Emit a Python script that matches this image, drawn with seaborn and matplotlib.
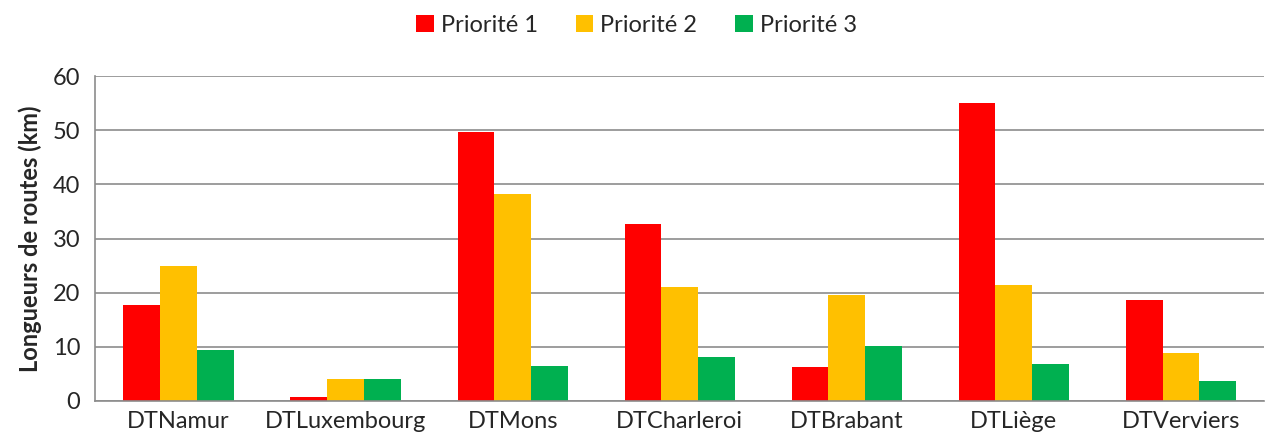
import seaborn as sns
import matplotlib.pyplot as plt
import pandas as pd
import numpy as np

# valeurs (km)
districts = ['DTNamur', 'DTLuxembourg', 'DTMons', 'DTCharleroi', 'DTBrabant', 'DTLiège', 'DTVerviers']
priorite_1 = [17.7, 0.8, 49.7, 32.7, 6.2, 55.0, 18.7]
priorite_2 = [24.9, 4.1, 38.3, 21.1, 19.6, 21.5, 8.9]
priorite_3 = [9.4, 4.1, 6.5, 8.1, 10.2, 6.8, 3.7]
series = ['Priorité 1', 'Priorité 2', 'Priorité 3']
colors = ['#ff0000', '#ffc000', '#00b050']

df = pd.DataFrame({
    'district': districts * 3,
    'priorite': [s for s in series for _ in districts],
    'km': priorite_1 + priorite_2 + priorite_3,
})

sns.set_style('white')
plt.rcParams['font.family'] = ['Lato', 'DejaVu Sans']

fig = plt.figure(figsize=(12.67, 4.48), dpi=100)
ax = fig.add_axes([0.075, 0.105, 0.923, 0.725])

sns.barplot(data=df, x='district', y='km', hue='priorite', palette=colors,
            width=0.66, saturation=1, linewidth=0, ax=ax, order=districts, hue_order=series)

ax.set_ylim(0, 60)
ax.set_xlim(-0.5, len(districts) - 0.5)
ax.set_yticks(range(0, 61, 10))
ax.yaxis.grid(True, color='#8c8c8c', linewidth=1.2)
ax.set_axisbelow(True)

for s in ['top', 'right']:
    ax.spines[s].set_visible(False)
for s in ['left', 'bottom']:
    ax.spines[s].set_color('#8c8c8c')
    ax.spines[s].set_linewidth(1.2)

# petites marques entre les catégories
ax.set_xticks(np.arange(-0.5, len(districts), 1), minor=True)
ax.tick_params(axis='x', which='minor', length=7, width=1.2, color='#8c8c8c', direction='out')
ax.tick_params(axis='x', which='major', length=0, labelsize=17, pad=7)
ax.tick_params(axis='y', length=7, width=1.2, color='#8c8c8c', direction='out', labelsize=17)

ax.set_xlabel('')
ax.set_ylabel('Longueurs de routes (km)', fontsize=17, fontweight='bold', labelpad=8)

ax.legend(loc='upper center', bbox_to_anchor=(0.463, 1.255), ncol=3, frameon=False,
          fontsize=17, handlelength=0.75, handleheight=0.75, handletextpad=0.3,
          columnspacing=1.6)

fig.savefig('out.png', dpi=100)
